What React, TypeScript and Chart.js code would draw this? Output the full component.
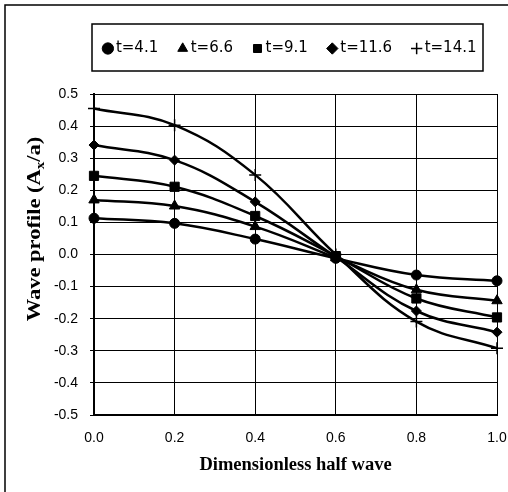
import React, { useEffect, useRef } from 'react';
import { Chart, registerables } from 'chart.js';

Chart.register(...registerables);

// ---- data ----
const xValues = [0.0, 0.2, 0.4, 0.6, 0.8, 1.0];
const seriesLabels = ['t=4.1', 't=6.6', 't=9.1', 't=11.6', 't=14.1'];
const t41 = [0.113, 0.097, 0.048, -0.012, -0.064, -0.082];
const t66 = [0.170, 0.151, 0.087, -0.010, -0.110, -0.144];
const t91 = [0.245, 0.211, 0.120, -0.005, -0.137, -0.196];
const t116 = [0.341, 0.294, 0.164, -0.008, -0.176, -0.242];
const t141 = [0.455, 0.403, 0.248, 0.000, -0.209, -0.292];
const pointStyles = ['circle', 'triangle', 'rect', 'rectRot', 'cross'];
const pointRadii = [5, 6, 6.5, 5, 6];
const yMin = -0.5;
const yMax = 0.5;
const yStep = 0.1;
const xMin = 0;
const xMax = 1;
const xStep = 0.2;
const xTitle = 'Dimensionless half wave';
const yTitleParts = ['Wave profile (A', 'x', '/a)'];

const allSeries = [t41, t66, t91, t116, t141];

const fmt = (v: number) => (Math.abs(v) < 1e-9 ? '0.0' : Number(v).toFixed(1));

const decorPlugin = {
  id: 'decor',
  beforeDraw(chart: any) {
    const { ctx, width, height } = chart;
    ctx.save();
    ctx.fillStyle = '#fff';
    ctx.fillRect(0, 0, width, height);
    ctx.restore();
  },
  afterDraw(chart: any) {
    const ctx = chart.ctx;
    ctx.save();
    ctx.strokeStyle = '#000';
    ctx.lineWidth = 1.5;
    ctx.strokeRect(5, 5, 600, 600);
    ctx.strokeRect(92, 24, 391, 47);

    // y axis title with subscript
    const S = 1.25;
    const main = 'bold 18px "Liberation Serif"';
    const sub = 'bold 12px "Liberation Serif"';
    const fonts = [main, sub, main];
    const dys = [6, 10, 6];
    let total = 0;
    const widths = yTitleParts.map((t, i) => {
      ctx.font = fonts[i];
      const w = ctx.measureText(t).width;
      total += w;
      return w;
    });
    ctx.translate(34, 229);
    ctx.rotate(-Math.PI / 2);
    ctx.scale(S, 1);
    ctx.fillStyle = '#000';
    ctx.textBaseline = 'alphabetic';
    ctx.textAlign = 'left';
    let x = -total / 2;
    yTitleParts.forEach((t, i) => {
      ctx.font = fonts[i];
      ctx.fillText(t, x, dys[i]);
      x += widths[i];
    });
    ctx.restore();
  },
};

export default function App() {
  const ref = useRef<HTMLCanvasElement | null>(null);

  useEffect(() => {
    if (!ref.current) return;
    const datasets = allSeries.map((vals, i) => ({
      label: seriesLabels[i],
      data: xValues.map((x, j) => ({ x, y: vals[j] })),
      borderColor: '#000',
      backgroundColor: '#000',
      borderWidth: 2.5,
      tension: 0.4,
      pointStyle: pointStyles[i],
      pointRadius: pointRadii[i],
      pointBackgroundColor: '#000',
      pointBorderColor: '#000',
      pointBorderWidth: pointStyles[i] === 'cross' ? 1.5 : 1,
      clip: false as any,
      yAxisID: 'y',
    }));

    const chart = new Chart(ref.current, {
      type: 'line',
      data: { datasets },
      options: {
        animation: false,
        responsive: false,
        devicePixelRatio: 1,
        layout: { padding: { top: 17, left: 0, right: 7.5, bottom: 0 } },
        plugins: {
          legend: {
            display: true,
            position: 'top',
            align: 'end',
            labels: {
              usePointStyle: true,
              boxWidth: 1,
              boxHeight: 8,
              padding: 24,
              color: '#000',
              font: { family: '"DejaVu Sans"', size: 15 },
            },
          },
          title: {
            display: true,
            text: ' ',
            weight: 500,
            padding: { top: 27, bottom: 0 },
            font: { size: 1, lineHeight: 1 },
          } as any,
          tooltip: { enabled: false },
        },
        scales: {
          x: {
            type: 'linear',
            min: xMin,
            max: xMax,
            afterFit: (s: any) => {
              s.height = 77;
            },
            ticks: {
              stepSize: xStep,
              color: '#000',
              padding: 0,
              font: { family: '"Liberation Sans"', size: 14 },
              callback: (v: any) => fmt(Number(v)),
            },
            grid: {
              color: '#000',
              lineWidth: 1,
              drawTicks: true,
              tickLength: 15,
              tickColor: 'rgba(0,0,0,0)',
            },
            border: { color: '#000', width: 2 },
            title: {
              display: true,
              text: xTitle,
              color: '#000',
              font: { family: '"Liberation Serif"', size: 18.5, weight: 'bold' },
              padding: { top: 0, bottom: 16 },
            },
          },
          y: {
            type: 'linear',
            position: 'left',
            min: yMin,
            max: yMax,
            afterFit: (s: any) => {
              s.width = 94;
            },
            ticks: {
              stepSize: yStep,
              color: '#000',
              padding: 12,
              font: { family: '"Liberation Sans"', size: 14 },
              callback: (v: any) => fmt(Number(v)),
            },
            grid: { color: '#000', lineWidth: 1, drawTicks: true, tickLength: 4 },
            border: { color: '#000', width: 2 },
          },
          yRight: {
            type: 'linear',
            position: 'right',
            min: yMin,
            max: yMax,
            afterFit: (s: any) => {
              s.width = 3.5;
            },
            ticks: { display: false, padding: 0 },
            grid: { display: false, drawTicks: false },
            border: { display: false },
          },
        },
      },
      plugins: [decorPlugin],
    });
    return () => chart.destroy();
  }, []);

  return (
    <div style={{ position: 'absolute', left: 0, top: 0, width: 508, height: 492 }}>
      <canvas ref={ref} width={508} height={492} style={{ display: 'block' }} />
    </div>
  );
}
